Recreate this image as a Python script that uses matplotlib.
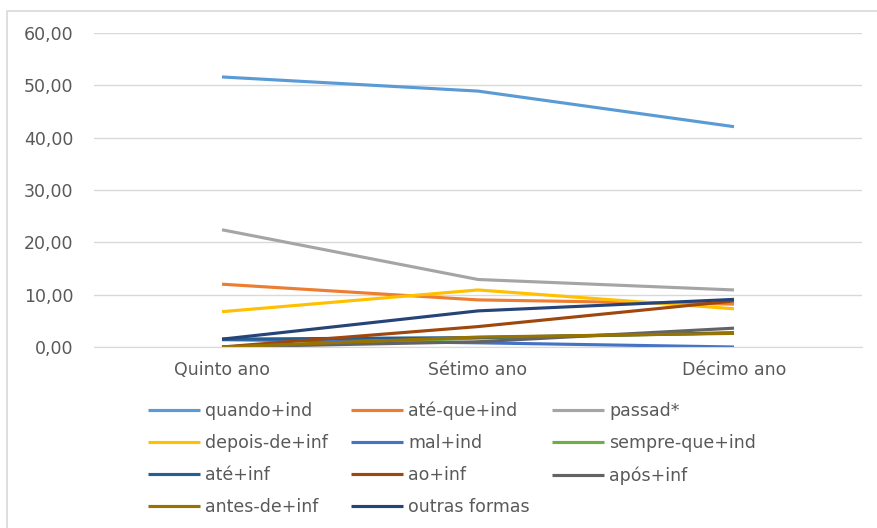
import matplotlib
matplotlib.use("Agg")
import matplotlib.pyplot as plt
from matplotlib.patches import Rectangle
from matplotlib.ticker import FuncFormatter

categories = ["Quinto ano", "Sétimo ano", "Décimo ano"]
series_names = ["quando+ind", "até-que+ind", "passad*", "depois-de+inf", "mal+ind",
                "sempre-que+ind", "até+inf", "ao+inf", "após+inf", "antes-de+inf", "outras formas"]
quando_ind = [51.6, 48.9, 42.1]
ate_que_ind = [12.0, 9.0, 8.2]
passad = [22.4, 12.9, 10.9]
depois_de_inf = [6.75, 10.9, 7.3]
mal_ind = [1.4, 0.8, 0.0]
sempre_que_ind = [0.0, 1.7, 2.7]
ate_inf = [1.5, 1.8, 2.7]
ao_inf = [0.0, 3.9, 8.8]
apos_inf = [0.0, 1.0, 3.6]
antes_de_inf = [0.0, 1.9, 2.6]
outras_formas = [1.5, 6.9, 9.1]

values = [quando_ind, ate_que_ind, passad, depois_de_inf, mal_ind, sempre_que_ind,
          ate_inf, ao_inf, apos_inf, antes_de_inf, outras_formas]
colors = ["#5B9BD5", "#ED7D31", "#A5A5A5", "#FFC000", "#4472C4", "#70AD47",
          "#255E91", "#9E480E", "#636363", "#997300", "#264478"]

plt.rcParams['font.family'] = ['DejaVu Sans']
fig = plt.figure(figsize=(8.78, 5.28), dpi=100)
ax = fig.add_axes([94/878, 1 - 347/528, (862 - 94)/878, (347 - 33)/528])

x = list(range(len(categories)))
lines = []
for name, vals, c in zip(series_names, values, colors):
    ln, = ax.plot(x, vals, color=c, lw=2.25, label=name, solid_capstyle='butt')
    lines.append(ln)

ax.set_xlim(-0.5, 2.5)
ax.set_ylim(0, 60)
ax.set_yticks(range(0, 61, 10))
ax.yaxis.set_major_formatter(FuncFormatter(lambda v, p: f"{v:.2f}".replace(".", ",")))
ax.set_xticks(x)
ax.set_xticklabels(categories)
ax.grid(axis='y', color="#D9D9D9", lw=1)
ax.set_axisbelow(True)
for s in ["left", "right", "top"]:
    ax.spines[s].set_visible(False)
ax.spines["bottom"].set_color("#D9D9D9")
ax.tick_params(axis='both', length=0, labelsize=12.5, labelcolor="#595959")
ax.tick_params(axis='y', pad=15)
ax.tick_params(axis='x', pad=10)

order = [0, 3, 6, 9, 1, 4, 7, 10, 2, 5, 8]
leg = fig.legend([lines[i] for i in order], [series_names[i] for i in order],
                 ncol=3, loc='upper left', bbox_to_anchor=(141/878, 1 - 395/528),
                 frameon=False, fontsize=12.5, handlelength=3.0, handletextpad=0.3,
                 columnspacing=1.3, labelspacing=0.8, borderaxespad=0)
for t in leg.get_texts():
    t.set_color("#595959")

fig.patches.append(Rectangle((7/878, -0.1), 1.2, 1 - 11/528 + 0.1, transform=fig.transFigure,
                             fill=False, edgecolor="#D9D9D9", lw=1.2))

fig.savefig("out.png", dpi=100)
